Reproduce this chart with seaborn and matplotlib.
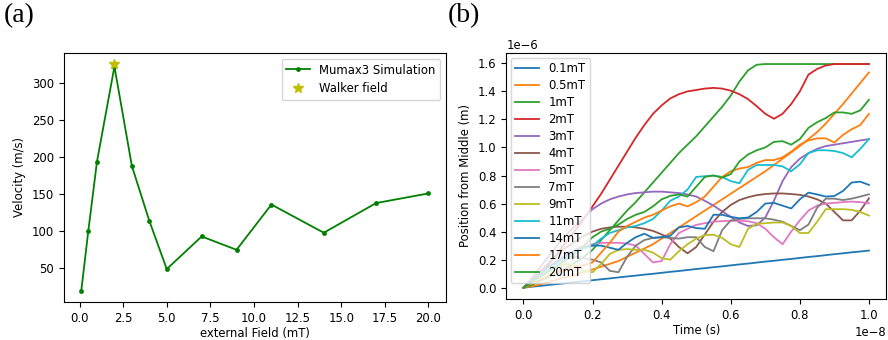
import numpy as np
import pandas as pd
import matplotlib
matplotlib.use('Agg')
import matplotlib.pyplot as plt
import seaborn as sns

plt.rcParams['font.size'] = 8.4
plt.rcParams['lines.linewidth'] = 1.3

# (a) average wall velocity vs applied field
field = [0.1, 0.5, 1, 2, 3, 4, 5, 7, 9, 11, 14, 17, 20]
velocity = [20, 100, 194, 322, 188, 114, 49, 93, 75, 136, 98, 138, 151]
walker_field = [2]
walker_velocity = [325]

# (b) wall position vs time, position in 1e-6 m, time in 1e-8 s
time = np.linspace(0, 1, 41)
labels = ['0.1mT', '0.5mT', '1mT', '2mT', '3mT', '4mT', '5mT', '7mT',
          '9mT', '11mT', '14mT', '17mT', '20mT']

pos_01 = [0, 0.007, 0.013, 0.02, 0.026, 0.033, 0.04, 0.046, 0.053, 0.06,
          0.066, 0.073, 0.08, 0.086, 0.093, 0.099, 0.106, 0.113, 0.119, 0.126,
          0.133, 0.139, 0.146, 0.152, 0.159, 0.166, 0.172, 0.179, 0.186, 0.192,
          0.199, 0.205, 0.212, 0.219, 0.225, 0.232, 0.239, 0.245, 0.252, 0.258,
          0.265]
pos_05 = [0, 0.01, 0.025, 0.04, 0.06, 0.075, 0.09, 0.11, 0.13, 0.15,
          0.17, 0.19, 0.22, 0.25, 0.28, 0.31, 0.35, 0.39, 0.43, 0.47,
          0.51, 0.55, 0.59, 0.63, 0.67, 0.71, 0.75, 0.79, 0.83, 0.875,
          0.92, 0.965, 1.01, 1.06, 1.11, 1.17, 1.24, 1.31, 1.385, 1.46,
          1.535]
pos_1 = [0, 0.02, 0.05, 0.08, 0.11, 0.14, 0.18, 0.22, 0.27, 0.34,
         0.41, 0.48, 0.55, 0.61, 0.68, 0.75, 0.82, 0.89, 0.96, 1.02,
         1.08, 1.15, 1.22, 1.29, 1.37, 1.47, 1.55, 1.59, 1.595, 1.595,
         1.595, 1.595, 1.595, 1.595, 1.595, 1.595, 1.595, 1.595, 1.595, 1.595,
         1.595]
pos_2 = [0, 0.04, 0.1, 0.17, 0.25, 0.33, 0.41, 0.49, 0.58, 0.67,
         0.77, 0.87, 0.97, 1.07, 1.16, 1.24, 1.30, 1.35, 1.38, 1.40,
         1.41, 1.42, 1.425, 1.42, 1.405, 1.38, 1.345, 1.295, 1.24, 1.205,
         1.24, 1.31, 1.40, 1.52, 1.56, 1.585, 1.595, 1.595, 1.595, 1.595,
         1.595]
pos_3 = [0, 0.07, 0.15, 0.23, 0.31, 0.38, 0.44, 0.5, 0.56, 0.6,
         0.63, 0.65, 0.665, 0.675, 0.68, 0.685, 0.685, 0.68, 0.675, 0.665,
         0.65, 0.62, 0.585, 0.545, 0.505, 0.465, 0.44, 0.445, 0.5, 0.62,
         0.76, 0.86, 0.92, 0.96, 0.99, 1.01, 1.02, 1.03, 1.04, 1.05,
         1.06]
pos_4 = [0, 0.06, 0.12, 0.18, 0.24, 0.29, 0.33, 0.37, 0.40, 0.42,
         0.43, 0.435, 0.435, 0.43, 0.42, 0.405, 0.38, 0.35, 0.29, 0.245,
         0.29, 0.38, 0.47, 0.54, 0.59, 0.625, 0.645, 0.66, 0.668, 0.672,
         0.672, 0.668, 0.662, 0.65, 0.63, 0.6, 0.54, 0.48, 0.48, 0.55,
         0.637]
pos_5 = [0, 0.05, 0.1, 0.15, 0.2, 0.24, 0.27, 0.3, 0.31, 0.32,
         0.32, 0.32, 0.315, 0.3, 0.24, 0.18, 0.19, 0.31, 0.39, 0.42,
         0.448, 0.46, 0.47, 0.475, 0.476, 0.476, 0.474, 0.46, 0.42, 0.36,
         0.31, 0.4, 0.48, 0.55, 0.585, 0.6, 0.605, 0.61, 0.614, 0.61,
         0.602]
pos_7 = [0, 0.05, 0.1, 0.15, 0.19, 0.21, 0.22, 0.21, 0.2, 0.18,
         0.12, 0.11, 0.22, 0.3, 0.34, 0.355, 0.36, 0.355, 0.35, 0.36,
         0.36, 0.29, 0.26, 0.41, 0.48, 0.49, 0.495, 0.495, 0.495, 0.485,
         0.47, 0.44, 0.41, 0.45, 0.57, 0.635, 0.635, 0.625, 0.635, 0.65,
         0.666]
pos_9 = [0, 0.04, 0.08, 0.12, 0.15, 0.17, 0.16, 0.12, 0.11, 0.17,
         0.24, 0.27, 0.275, 0.27, 0.27, 0.25, 0.21, 0.2, 0.26, 0.31,
         0.35, 0.375, 0.378, 0.355, 0.31, 0.29, 0.42, 0.455, 0.46, 0.465,
         0.465, 0.44, 0.39, 0.39, 0.47, 0.56, 0.56, 0.56, 0.555, 0.54,
         0.514]
pos_11 = [0, 0.04, 0.09, 0.13, 0.18, 0.22, 0.26, 0.28, 0.3, 0.35,
          0.39, 0.41, 0.43, 0.44, 0.46, 0.49, 0.55, 0.62, 0.65, 0.7,
          0.79, 0.795, 0.8, 0.79, 0.76, 0.745, 0.84, 0.875, 0.875, 0.875,
          0.865, 0.83, 0.88, 0.96, 0.98, 0.98, 0.975, 0.96, 0.93, 0.99,
          1.06]
pos_14 = [0, 0.05, 0.1, 0.15, 0.19, 0.23, 0.27, 0.29, 0.3, 0.3,
          0.285, 0.27, 0.32, 0.36, 0.385, 0.355, 0.36, 0.37, 0.43, 0.44,
          0.425, 0.42, 0.52, 0.52, 0.505, 0.495, 0.5, 0.54, 0.6, 0.605,
          0.585, 0.565, 0.63, 0.678, 0.665, 0.65, 0.654, 0.69, 0.75, 0.756,
          0.733]
pos_17 = [0, 0.03, 0.06, 0.09, 0.11, 0.13, 0.15, 0.16, 0.18, 0.25,
          0.32, 0.4, 0.44, 0.47, 0.5, 0.52, 0.55, 0.58, 0.6, 0.58,
          0.61, 0.65, 0.72, 0.79, 0.83, 0.85, 0.86, 0.89, 0.91, 0.91,
          0.93, 0.97, 1.02, 1.05, 1.065, 1.065, 1.035, 1.09, 1.13, 1.16,
          1.24]
pos_20 = [0, 0.04, 0.08, 0.12, 0.16, 0.2, 0.25, 0.3, 0.36, 0.4,
          0.42, 0.45, 0.49, 0.52, 0.54, 0.58, 0.63, 0.655, 0.665, 0.65,
          0.72, 0.79, 0.8, 0.785, 0.81, 0.9, 0.95, 0.98, 1.0, 1.04,
          1.045, 1.02, 1.06, 1.14, 1.18, 1.21, 1.25, 1.25, 1.24, 1.265,
          1.34]

positions = [pos_01, pos_05, pos_1, pos_2, pos_3, pos_4, pos_5, pos_7,
             pos_9, pos_11, pos_14, pos_17, pos_20]

fig = plt.figure(figsize=(8.88, 3.4), dpi=100)
ax1 = fig.add_axes([0.072, 0.112, 0.430, 0.732])
ax2 = fig.add_axes([0.570, 0.121, 0.428, 0.7235])

# left panel
sns.lineplot(x=field, y=velocity, marker='o', markersize=3.5, markeredgewidth=0,
             color='green', label='Mumax3 Simulation', ax=ax1)
ax1.plot(walker_field, walker_velocity, 'y*', markersize=7, linestyle='none',
         label='Walker field')
ax1.set_xlabel('external Field (mT)', labelpad=2)
ax1.set_ylabel('Velocity (m/s)')
ax1.legend(loc='upper right')

# right panel
palette = sns.color_palette('tab10', 10)
for i, (name, pos) in enumerate(zip(labels, positions)):
    sns.lineplot(x=time * 1e-8, y=np.array(pos) * 1e-6, color=palette[i % 10],
                 label=name, ax=ax2)
ax2.set_xlabel('Time (s)', labelpad=2)
ax2.set_ylabel('Position from Middle (m)')
ax2.legend(loc='upper left', labelspacing=0.34, borderaxespad=0.4)

for t, xpos in [('(a)', 0.004), ('(b)', 0.504)]:
    fig.text(xpos, 0.99, t, va='top', ha='left', fontsize=20,
             family='Liberation Serif')

fig.savefig('out.png', dpi=100)
